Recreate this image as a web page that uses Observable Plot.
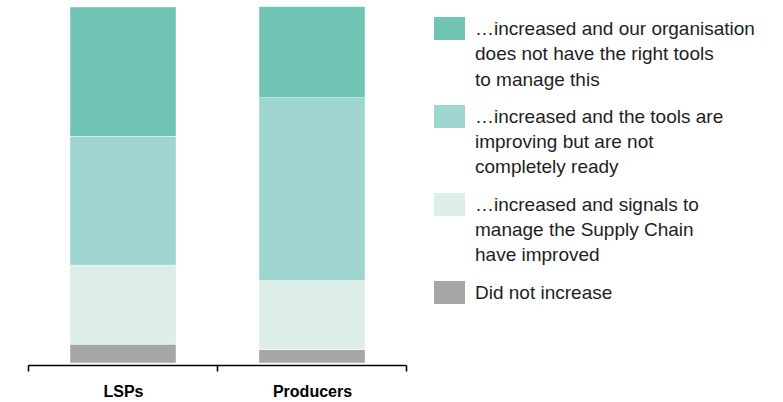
<!DOCTYPE html>
<html>
<head>
<meta charset="utf-8">
<script src="https://cdn.jsdelivr.net/npm/d3@7"></script>
<script src="https://cdn.jsdelivr.net/npm/@observablehq/plot@0.6"></script>
<style>
  html, body { margin: 0; padding: 0; background: #fff; }
  #wrap { position: relative; width: 783px; height: 402px; overflow: hidden; }
  #chart { position: absolute; left: 0; top: 0; }
  #legend { position: absolute; left: 434px; top: 16px; font-family: "Liberation Sans", Arial, sans-serif; font-size: 19px; color: #1e1e1e; }
  .item { display: flex; align-items: flex-start; margin-bottom: 12px; }
  .sw { width: 31px; height: 23px; flex: none; margin-top: 1px; margin-right: 10px; }
  .lab { white-space: pre-line; line-height: 25.3px; }
</style>
</head>
<body>
<div id="wrap"><div id="chart"></div><div id="legend"></div></div>
<script>
const categories = ["LSPs", "Producers"];
// series listed top of stack first
const series = [
  "…increased and our organisation\ndoes not have the right tools\nto manage this",
  "…increased and the tools are\nimproving but are not\ncompletely ready",
  "…increased and signals to\nmanage the Supply Chain\nhave improved",
  "Did not increase"
];
const colors = ["#70c4b4", "#9fd5d0", "#ddeee8", "#a6a6a6"];
const lspsValues = [36.3, 36.2, 22.2, 5.3];
const producersValues = [25.6, 51.4, 19.4, 3.7];

const valuesByCategory = [lspsValues, producersValues];
const data = [];
// stack from bottom ("Did not increase") upward
for (let s = series.length - 1; s >= 0; s--) {
  categories.forEach((c, ci) => data.push({category: c, series: series[s], value: valuesByCategory[ci][s]}));
}

function axisMark(index, scales, values, dims) {
  const x = scales.x, y = scales.y;
  const bw = typeof x.bandwidth === "function" ? x.bandwidth() : x.bandwidth;
  const step = x(categories[1]) - x(categories[0]);
  const pad = (step - bw) / 2;
  const bounds = categories.map(c => x(c) - pad);
  bounds.push(x(categories[categories.length - 1]) + bw + pad);
  const y0 = y(0) + 2.5;
  const g = d3.create("svg:g").attr("stroke", "#000").attr("stroke-width", 1.6).attr("fill", "none");
  g.append("line").attr("x1", bounds[0]).attr("x2", bounds[bounds.length - 1]).attr("y1", y0).attr("y2", y0);
  bounds.forEach(b => g.append("line").attr("x1", b).attr("x2", b).attr("y1", y0).attr("y2", y0 + 6));
  return g.node();
}

const plot = Plot.plot({
  width: 420,
  height: 402,
  marginLeft: 28,
  marginRight: 13,
  marginTop: 7,
  marginBottom: 39,
  style: {fontFamily: "Liberation Sans, Arial, sans-serif", fontSize: "16px", fontWeight: "bold", color: "#000", background: "#fff"},
  x: {domain: categories, paddingInner: 0.44, paddingOuter: 0.22, tickSize: 0, tickPadding: 22, label: null},
  y: {domain: [0, 100], axis: null},
  color: {domain: series, range: colors},
  marks: [
    Plot.barY(data, {x: "category", y: "value", fill: "series", stroke: "#fff", strokeWidth: 0.4}),
    axisMark
  ]
});
document.getElementById("chart").appendChild(plot);

const legend = document.getElementById("legend");
series.forEach((s, i) => {
  const item = document.createElement("div");
  item.className = "item";
  const sw = document.createElement("div");
  sw.className = "sw";
  sw.style.background = colors[i];
  const lab = document.createElement("div");
  lab.className = "lab";
  lab.textContent = s;
  item.appendChild(sw);
  item.appendChild(lab);
  legend.appendChild(item);
});
</script>
</body>
</html>
